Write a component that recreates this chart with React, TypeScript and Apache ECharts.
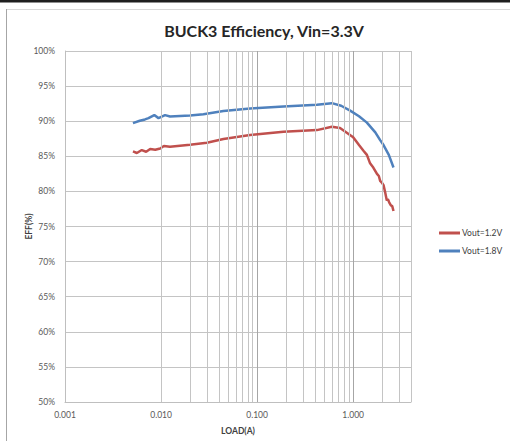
import React, { useEffect, useRef } from "react";
import * as echarts from "echarts";

const title = "BUCK3 Efficiency, Vin=3.3V";
const xName = "LOAD(A)";
const yName = "EFF(%)";
const seriesNames = ["Vout=1.2V", "Vout=1.8V"];
const seriesColors = ["#c0504d", "#4f81bd"];

// Vout=1.2V
const loads12 = [
  0.0051, 0.0056, 0.0063, 0.007, 0.0077, 0.0087, 0.0098, 0.0107, 0.0124, 0.02,
  0.03, 0.0446, 0.0845, 0.188, 0.419, 0.6, 0.73, 1.0, 1.15, 1.28, 1.39, 1.5,
  1.62, 1.77, 1.85, 1.91, 2.0, 2.07, 2.15, 2.24, 2.3, 2.37, 2.47, 2.55, 2.63,
];
const eff12 = [
  85.7, 85.47, 85.89, 85.65, 86.03, 85.94, 86.12, 86.46, 86.36, 86.65, 86.93,
  87.46, 88.03, 88.49, 88.73, 89.2, 89.02, 87.7, 86.6, 85.8, 85.2, 84.0, 83.4,
  82.5, 82.2, 81.5, 81.2, 80.9, 79.9, 78.7, 78.9, 78.45, 78.0, 77.9, 77.2,
];

// Vout=1.8V
const loads18 = [
  0.0051, 0.006, 0.0068, 0.0074, 0.0085, 0.0094, 0.011, 0.0124, 0.02, 0.0276,
  0.0446, 0.0845, 0.188, 0.419, 0.6, 0.75, 0.93, 1.15, 1.39, 1.7, 1.91, 2.07,
  2.35, 2.63,
];
const eff18 = [
  89.73, 90.06, 90.25, 90.44, 90.87, 90.44, 90.87, 90.67, 90.8, 91.0, 91.45,
  91.8, 92.09, 92.33, 92.57, 92.2, 91.5, 90.7, 89.8, 88.4, 87.3, 86.6, 85.2,
  83.4,
];

// axis setup
const xMin = 0.001;
const xMax = 4;
const yMin = 50;
const yMax = 100;
const yStep = 5;
const minorGridLoads = [
  0.002, 0.003, 0.004, 0.005, 0.006, 0.007, 0.008, 0.009,
  0.02, 0.03, 0.04, 0.05, 0.06, 0.07, 0.08, 0.09,
  0.2, 0.3, 0.4, 0.5, 0.6, 0.7, 0.8, 0.9,
  2, 3, 4,
];

const FONT = "Lato, 'Open Sans', sans-serif";

export default function App() {
  const ref = useRef<HTMLDivElement>(null);
  useEffect(() => {
    if (!ref.current) return;
    const chart = echarts.init(ref.current, undefined, { renderer: "svg" });
    const isPow10 = (v: number) => {
      const l = Math.log10(v);
      return Math.abs(l - Math.round(l)) < 1e-6;
    };
    chart.setOption({
      animation: false,
      backgroundColor: "#ffffff",
      textStyle: { fontFamily: FONT },
      title: {
        text: title,
        left: 259,
        top: 17,
        textAlign: "center",
        textStyle: { fontFamily: FONT, fontSize: 16, fontWeight: "bold", color: "#262626" },
      },
      grid: { left: 65, top: 51, width: 346, height: 351, containLabel: false },
      legend: {
        orient: "vertical",
        left: 434,
        top: 223,
        itemWidth: 21,
        itemHeight: 3,
        itemGap: 8,
        icon: "rect",
        data: seriesNames,
        textStyle: { fontFamily: FONT, fontSize: 8.5, color: "#404040", lineHeight: 10, padding: [0, 0, 0, -3] },
      },
      xAxis: {
        type: "log",
        logBase: 10,
        min: xMin,
        max: xMax,
        name: xName,
        nameLocation: "middle",
        nameGap: 24,
        nameMoveOverlap: false,
        nameTextStyle: { fontFamily: FONT, fontSize: 8.5, fontWeight: "bold", color: "#404040" },
        axisLine: { show: true, lineStyle: { color: "#bfbfbf", width: 1 } },
        axisTick: { show: false },
        axisLabel: {
          fontFamily: FONT,
          fontSize: 8.5,
          color: "#595959",
          margin: 8,
          formatter: (v: number) => (isPow10(v) ? v.toFixed(3) : ""),
        },
        splitLine: { show: true, lineStyle: { color: "#a6a6a6", width: 1 } },
        minorTick: { show: false },
        minorSplitLine: { show: false },
      },
      yAxis: {
        type: "value",
        min: yMin,
        max: yMax,
        interval: yStep,
        name: yName,
        nameLocation: "middle",
        nameGap: 32,
        nameMoveOverlap: false,
        nameRotate: 90,
        nameTextStyle: { fontFamily: FONT, fontSize: 8.5, fontWeight: "bold", color: "#404040" },
        axisLine: { show: true, lineStyle: { color: "#bfbfbf", width: 1 } },
        axisTick: { show: false },
        axisLabel: {
          fontFamily: FONT,
          fontSize: 8.5,
          color: "#595959",
          margin: 10,
          formatter: (v: number) => `${v}%`,
        },
        splitLine: { show: true, lineStyle: { color: "#c4c4c4", width: 1 } },
      },
      series: [
        {
          name: "grid",
          type: "line",
          z: 1,
          data: [[xMin, yMin]],
          showSymbol: false,
          symbol: "none",
          lineStyle: { opacity: 0 },
          silent: true,
          tooltip: { show: false },
          markLine: {
            silent: true,
            symbol: ["none", "none"],
            label: { show: false },
            emphasis: { disabled: true },
            lineStyle: { color: "#c4c4c4", type: "solid", width: 1 },
            data: minorGridLoads.map((v) => ({ xAxis: v })),
          },
        },
        {
          name: seriesNames[0],
          type: "line",
          z: 3,
          data: loads12.map((x, i) => [x, eff12[i]]),
          showSymbol: false,
          symbol: "none",
          color: seriesColors[0],
          lineStyle: { color: seriesColors[0], width: 2.5 },
        },
        {
          name: seriesNames[1],
          type: "line",
          z: 3,
          data: loads18.map((x, i) => [x, eff18[i]]),
          showSymbol: false,
          symbol: "none",
          color: seriesColors[1],
          lineStyle: { color: seriesColors[1], width: 2.5 },
        },
      ],
      graphic: [
        { type: "rect", shape: { x: 0, y: 0, width: 510, height: 2.5 }, style: { fill: "#1f1f1f" }, silent: true },
        { type: "line", shape: { x1: 6, y1: 9.5, x2: 510, y2: 9.5 }, style: { stroke: "#d9d9d9", lineWidth: 1 }, silent: true },
        { type: "line", shape: { x1: 6.5, y1: 9, x2: 6.5, y2: 441 }, style: { stroke: "#a6a6a6", lineWidth: 1 }, silent: true },
      ],
    });
    return () => chart.dispose();
  }, []);
  return (
    <div
      ref={ref}
      style={{ position: "absolute", left: 0, top: 0, width: 510, height: 441, background: "#fff" }}
    />
  );
}
